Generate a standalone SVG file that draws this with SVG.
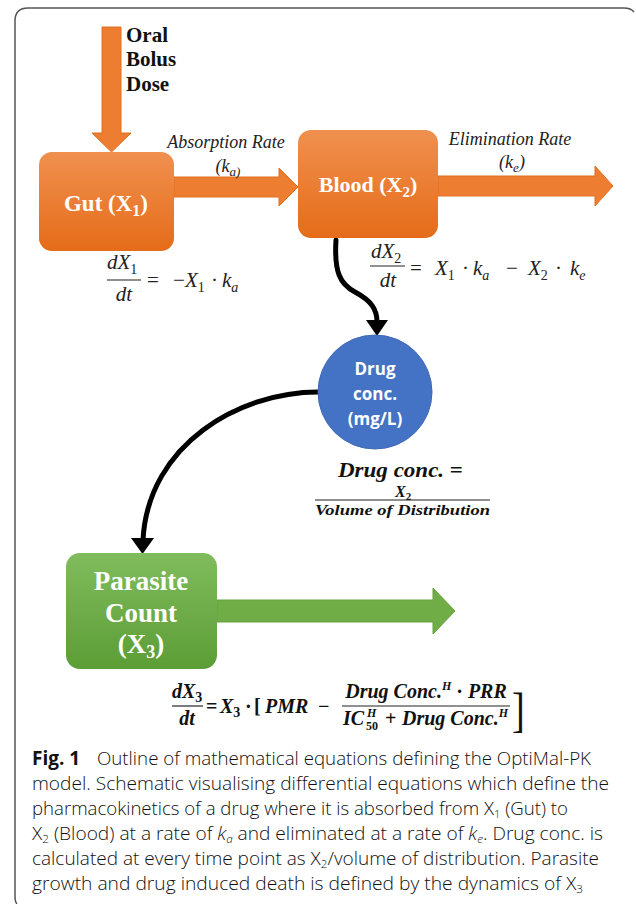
<svg xmlns="http://www.w3.org/2000/svg" width="636" height="904" viewBox="0 0 636 904">
  <defs>
    <linearGradient id="gOrange" x1="0" y1="0" x2="0" y2="1">
      <stop offset="0" stop-color="#F0904F"/>
      <stop offset="1" stop-color="#E56C19"/>
    </linearGradient>
    <linearGradient id="gGreen" x1="0" y1="0" x2="0" y2="1">
      <stop offset="0" stop-color="#80BC5C"/>
      <stop offset="1" stop-color="#5C9D36"/>
    </linearGradient>
    <style>
      .lbl { font-family: "Liberation Serif", "Times New Roman", serif; font-weight: bold; fill: #ffffff; text-anchor: middle; }
      .it { font-family: "Liberation Serif", "Times New Roman", serif; font-style: italic; fill: #222; }
      .m { font-family: "Liberation Serif", "Times New Roman", serif; font-style: italic; font-size: 21px; fill: #222; }
      .mb { font-family: "Liberation Serif", "Times New Roman", serif; font-style: italic; font-weight: bold; fill: #111; }
      .op { font-style: normal; }
      .cap { font-family: "Open Sans", "Noto Sans", sans-serif; font-size: 18px; font-weight: 300; fill: #111; }
      .capb { font-family: "Open Sans", "Noto Sans", sans-serif; font-size: 19px; font-weight: 700; fill: #111; }
      .orangeArrow { fill: #ED7D31; stroke: #E0701F; stroke-width: 1; }
      .curve { fill: none; stroke: #000; stroke-width: 5; stroke-linecap: round; }
      .fl { stroke: #222; stroke-width: 1.2; }
    </style>
  </defs>

  <rect width="636" height="904" fill="#ffffff"/>
  <!-- outer frame -->
  <path d="M17,904 Q15,902 15,896 L15,21 Q15,8 28,8 L624,8 Q631,8 634,12" fill="none" stroke="#555" stroke-width="1.5"/>

  <!-- connectors -->
  <g id="connectors">
    <polygon class="orangeArrow" points="102,27 121,27 121,133 131,133 111.5,152 92,133 102,133"/>
    <polygon class="orangeArrow" points="174,177 279,177 279,168 298,187 279,206 279,197 174,197"/>
    <polygon class="orangeArrow" points="438,176 595,176 595,166 613,186 595,206 595,196 438,196"/>
    <polygon fill="#70AD47" stroke="#66A23E" stroke-width="1" points="217,600 433,600 433,588 455,611 433,634 433,622 217,622"/>
    <path class="curve" d="M336,240 C334,272 340,284 355,292 C372,301 377,310 377,322"/>
    <polygon points="366,320 388,320 377,336" fill="#000"/>
    <path class="curve" d="M318,392 C240,392 148,444 143,540"/>
    <polygon points="131,538 154,538 142.5,554" fill="#000"/>
  </g>

  <g id="node-dose">
    <text font-family="Liberation Serif, serif" font-weight="bold" font-size="21" fill="#111" x="126" y="42">Oral</text>
    <text font-family="Liberation Serif, serif" font-weight="bold" font-size="21" fill="#111" x="126" y="66">Bolus</text>
    <text font-family="Liberation Serif, serif" font-weight="bold" font-size="21" fill="#111" x="126" y="91">Dose</text>
  </g>

  <g id="node-gut">
    <rect x="39" y="152" width="135" height="99" rx="13" fill="url(#gOrange)"/>
    <text class="lbl" x="106" y="211" font-size="23">Gut (X<tspan font-size="16" dy="5">1</tspan><tspan dy="-5">)</tspan></text>
  </g>

  <g id="node-blood">
    <rect x="298" y="130" width="140" height="108" rx="13" fill="url(#gOrange)"/>
    <text class="lbl" x="368" y="192" font-size="22">Blood (X<tspan font-size="15" dy="5">2</tspan><tspan dy="-5">)</tspan></text>
  </g>

  <g id="label-absorption">
    <text class="it" x="226" y="148" font-size="18" text-anchor="middle">Absorption Rate</text>
    <text class="it" x="228" y="172" font-size="18" text-anchor="middle">(k<tspan font-size="13" dy="4">a)</tspan></text>
  </g>
  <g id="label-elimination">
    <text class="it" x="510" y="145" font-size="18" text-anchor="middle">Elimination Rate</text>
    <text class="it" x="512" y="168" font-size="18" text-anchor="middle">(k<tspan font-size="13" dy="4">e</tspan><tspan dy="-4">)</tspan></text>
  </g>

  <g id="eq-gut">
    <text class="m" x="107" y="269">dX<tspan class="op" font-size="14" dy="5">1</tspan></text>
    <line class="fl" x1="107" y1="280" x2="141" y2="280"/>
    <text class="m" x="124" y="301" text-anchor="middle">dt</text>
    <text class="m" y="287"><tspan class="op" x="147">=</tspan><tspan class="op" x="173">−</tspan><tspan x="185">X</tspan><tspan class="op" font-size="14" dy="5">1</tspan><tspan class="op" x="211" dy="-5">·</tspan><tspan x="222">k</tspan><tspan font-size="14" dy="5">a</tspan></text>
  </g>

  <g id="eq-blood">
    <text class="m" x="371" y="258">dX<tspan class="op" font-size="14" dy="5">2</tspan></text>
    <line class="fl" x1="370" y1="266" x2="405" y2="266"/>
    <text class="m" x="388" y="287" text-anchor="middle">dt</text>
    <text class="m" y="275"><tspan class="op" x="410">=</tspan><tspan x="435">X</tspan><tspan class="op" font-size="14" dy="5">1</tspan><tspan class="op" x="462" dy="-5">·</tspan><tspan x="473">k</tspan><tspan font-size="14" dy="5">a</tspan><tspan class="op" x="506" dy="-5">−</tspan><tspan x="528">X</tspan><tspan class="op" font-size="14" dy="5">2</tspan><tspan class="op" x="555" dy="-5">·</tspan><tspan x="570">k</tspan><tspan font-size="14" dy="5">e</tspan></text>
  </g>

  <g id="node-drugconc">
    <circle cx="375" cy="392" r="57" fill="#4472C4" stroke="#3F69B5" stroke-width="1"/>
    <g font-family="Open Sans, Noto Sans, sans-serif" font-weight="bold" font-size="17" fill="#ffffff" text-anchor="middle">
      <text x="375" y="375">Drug</text>
      <text x="375" y="400">conc.</text>
      <text x="375" y="425">(mg/L)</text>
    </g>
  </g>

  <g id="eq-drugconc">
    <text class="mb" x="338" y="477" font-size="20" textLength="125" lengthAdjust="spacingAndGlyphs">Drug conc.<tspan class="op"> =</tspan></text>
    <text class="mb" x="395" y="497" font-size="16">X<tspan class="op" font-size="11" dy="3">2</tspan></text>
    <line class="fl" x1="315" y1="500" x2="490" y2="500"/>
    <text class="mb" x="315" y="515" font-size="14" textLength="175" lengthAdjust="spacingAndGlyphs">Volume of Distribution</text>
  </g>

  <g id="node-parasite">
    <rect x="66" y="553" width="151" height="116" rx="14" fill="url(#gGreen)"/>
    <text class="lbl" x="141" y="590" font-size="27">Parasite</text>
    <text class="lbl" x="141" y="622" font-size="27">Count</text>
    <text class="lbl" x="141" y="653" font-size="27">(X<tspan font-size="18" dy="5">3</tspan><tspan dy="-5">)</tspan></text>
  </g>

  <g id="eq-parasite">
    <text class="mb" x="172" y="698" font-size="20">dX<tspan class="op" font-size="14" dy="4">3</tspan></text>
    <line class="fl" x1="172" y1="706" x2="203" y2="706"/>
    <text class="mb" x="187" y="725" font-size="20" text-anchor="middle">dt</text>
    <text class="mb" y="713" font-size="20"><tspan class="op" x="206">=</tspan><tspan x="220">X</tspan><tspan class="op" font-size="14" dy="4">3</tspan><tspan class="op" x="245" dy="-4">·</tspan><tspan class="op" x="254">[</tspan><tspan x="265">PMR</tspan><tspan class="op" x="318">−</tspan></text>
    <text class="mb" x="426" y="698" font-size="20" text-anchor="middle">Drug Conc.<tspan font-size="12" dy="-8">H</tspan><tspan class="op" dy="8"> · </tspan>PRR</text>
    <line class="fl" x1="342" y1="706" x2="510" y2="706"/>
    <text class="mb" y="725" font-size="20"><tspan x="343">IC</tspan><tspan font-size="12" x="367" dy="-8">H</tspan><tspan class="op" font-size="12" x="366" dy="13">50</tspan><tspan class="op" x="385" dy="-5">+</tspan><tspan x="402">Drug Conc.</tspan><tspan font-size="12" dy="-8">H</tspan></text>
    <text x="512" y="726" font-family="Liberation Serif, serif" font-size="48" fill="#111" transform="translate(512 726) scale(0.8 1) translate(-512 -726)">]</text>
  </g>

  <g id="caption">
    <text class="capb" x="32" y="765">Fig. 1</text>
    <text class="cap" x="97" y="765" textLength="494" lengthAdjust="spacingAndGlyphs">Outline of mathematical equations defining the OptiMal-PK</text>
    <text class="cap" x="32" y="790" textLength="577" lengthAdjust="spacingAndGlyphs">model. Schematic visualising differential equations which define the</text>
    <text class="cap" x="32" y="815" textLength="536" lengthAdjust="spacingAndGlyphs">pharmacokinetics of a drug where it is absorbed from X<tspan font-size="11" dy="3">1</tspan><tspan dy="-3"> (Gut) to</tspan></text>
    <text class="cap" x="32" y="840" textLength="571" lengthAdjust="spacingAndGlyphs">X<tspan font-size="11" dy="3">2</tspan><tspan dy="-3"> (Blood) at a rate of </tspan><tspan font-style="italic">k</tspan><tspan font-style="italic" font-size="11" dy="3">a</tspan><tspan dy="-3"> and eliminated at a rate of </tspan><tspan font-style="italic">k</tspan><tspan font-style="italic" font-size="11" dy="3">e</tspan><tspan dy="-3">. Drug conc. is</tspan></text>
    <text class="cap" x="32" y="865" textLength="567" lengthAdjust="spacingAndGlyphs">calculated at every time point as X<tspan font-size="11" dy="3">2</tspan><tspan dy="-3">/volume of distribution. Parasite</tspan></text>
    <text class="cap" x="32" y="890" textLength="551" lengthAdjust="spacingAndGlyphs">growth and drug induced death is defined by the dynamics of X<tspan font-size="11" dy="3">3</tspan></text>
  </g>
</svg>
